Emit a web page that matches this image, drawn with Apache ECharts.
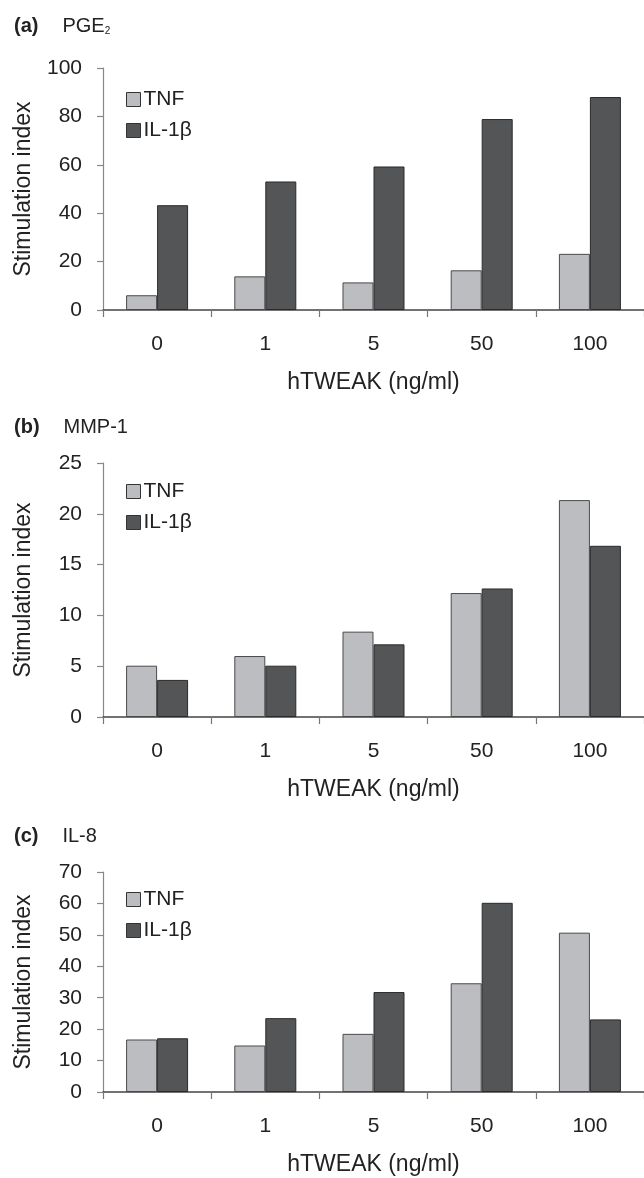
<!DOCTYPE html>
<html>
<head>
<meta charset="utf-8">
<script src="https://cdn.jsdelivr.net/npm/echarts@6/dist/echarts.min.js"></script>
<style>
html,body{margin:0;padding:0;background:#fff;}
#chart{width:644px;height:1178px;}
</style>
</head>
<body>
<div id="chart"></div>
<script>
// Data
const categories = ['0', '1', '5', '50', '100'];
const seriesNames = ['TNF', 'IL-1β'];
const pgeTNF = [6.1, 13.9, 11.4, 16.4, 23.2];
const pgeIL1b = [43.3, 53.1, 59.3, 78.9, 88.0];
const mmpTNF = [5.05, 6.0, 8.4, 12.2, 21.35];
const mmpIL1b = [3.65, 5.05, 7.15, 12.65, 16.85];
const il8TNF = [16.7, 14.8, 18.5, 34.6, 50.7];
const il8IL1b = [17.1, 23.5, 31.8, 60.2, 23.1];
const panelTitles = [['(a)', 'PGE', '2'], ['(b)', 'MMP-1', ''], ['(c)', 'IL-8', '']];
const yMax = [100, 25, 70];
const yInterval = [20, 5, 10];
const xAxisName = 'hTWEAK (ng/ml)';
const yAxisName = 'Stimulation index';

const FONT = 'Liberation Sans, Arial, Helvetica, sans-serif';
const lightFill = '#bcbdc1';
const darkFill = '#535557';
const grids = [
  {top: 68, height: 242},
  {top: 463, height: 254},
  {top: 872, height: 220}
];
const legendTops = [84, 476, 884];
const titleTops = [11, 412, 821];

const chart = echarts.init(document.getElementById('chart'), null, {renderer: 'canvas'});

const option = {
  backgroundColor: '#ffffff',
  animation: false,
  title: panelTitles.map((t, i) => ({
    left: 9,
    top: titleTops[i],
    text: '{b|' + t[0] + '}{n|' + t[1] + '}' + (t[2] ? '{s|' + t[2] + '}' : ''),
    textStyle: {
      fontWeight: 'normal',
      rich: {
        b: {fontFamily: FONT, fontSize: 20, fontWeight: 'bold', color: '#222'},
        n: {fontFamily: FONT, fontSize: 20, fontWeight: 'normal', color: '#222', padding: [0, 0, 0, 24]},
        s: {fontFamily: FONT, fontSize: 10, fontWeight: 'normal', color: '#222', verticalAlign: 'bottom', padding: [10, 0, 0, 0]}
      }
    }
  })),
  legend: grids.map((g, i) => ({
    data: seriesNames,
    orient: 'vertical',
    left: 121,
    top: legendTops[i],
    itemWidth: 14,
    itemHeight: 14,
    itemGap: 10,
    icon: 'rect',
    selectedMode: false,
    textStyle: {fontFamily: FONT, fontSize: 21, color: '#222', padding: [0, 0, 0, -2]},
    itemStyle: {borderColor: '#333', borderWidth: 1}
  })),
  grid: grids.map(g => ({left: 103, width: 545, top: g.top, height: g.height, containLabel: false})),
  xAxis: grids.map((g, i) => ({
    type: 'category',
    gridIndex: i,
    data: categories,
    name: xAxisName,
    nameLocation: 'middle',
    nameGap: 61,
    nameTextStyle: {fontFamily: FONT, fontSize: 23, color: '#222'},
    axisLine: {lineStyle: {color: '#444', width: 1.5}},
    axisTick: {show: true, length: 7, lineStyle: {color: '#777', width: 1.2}},
    axisLabel: {fontFamily: FONT, fontSize: 21, color: '#222', margin: 24},
    splitLine: {show: false}
  })),
  yAxis: grids.map((g, i) => ({
    type: 'value',
    gridIndex: i,
    min: 0,
    max: yMax[i],
    interval: yInterval[i],
    name: yAxisName,
    nameLocation: 'middle',
    nameGap: 68,
    nameRotate: 90,
    nameTextStyle: {fontFamily: FONT, fontSize: 23, color: '#222'},
    axisLine: {show: true, lineStyle: {color: '#888', width: 1.2}},
    axisTick: {show: true, length: 6, lineStyle: {color: '#888', width: 1.2}},
    axisLabel: {fontFamily: FONT, fontSize: 21, color: '#222', margin: 21},
    splitLine: {show: false}
  })),
  series: []
};

const data = [[pgeTNF, pgeIL1b], [mmpTNF, mmpIL1b], [il8TNF, il8IL1b]];
data.forEach((pair, i) => {
  option.series.push({
    name: seriesNames[0], type: 'bar', xAxisIndex: i, yAxisIndex: i,
    data: pair[0], barWidth: 31, barGap: '0%',
    itemStyle: {color: lightFill, borderColor: '#4a4a4a', borderWidth: 1}
  });
  option.series.push({
    name: seriesNames[1], type: 'bar', xAxisIndex: i, yAxisIndex: i,
    data: pair[1], barWidth: 31, barGap: '0%',
    itemStyle: {color: darkFill, borderColor: '#2a2a2a', borderWidth: 1}
  });
});

chart.setOption(option);
</script>
</body>
</html>
